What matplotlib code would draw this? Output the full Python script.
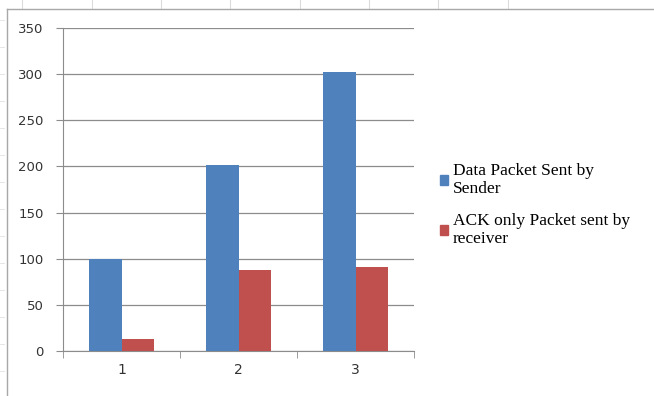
import matplotlib
matplotlib.use("Agg")
import matplotlib.pyplot as plt
from matplotlib.lines import Line2D
from matplotlib.patches import Patch

categories = ["1", "2", "3"]
sender_packets = [100, 202, 302]
receiver_acks = [13, 88, 91]
series_labels = ["Data Packet Sent by\nSender", "ACK only Packet sent by\nreceiver"]
y_ticks = [0, 50, 100, 150, 200, 250, 300, 350]

W, H = 654, 396
fig = plt.figure(figsize=(W / 100, H / 100), dpi=100)
fig.patch.set_facecolor("white")

# worksheet cell lines around the embedded chart
for x in [22, 92, 161, 230, 300, 369, 438, 508]:
    fig.add_artist(Line2D([x / W, x / W], [1 - 0 / H, 1 - 9 / H], color="#dcdcdc", lw=0.8))
for y in range(20, 396, 27):
    fig.add_artist(Line2D([0, 4 / W], [1 - y / H, 1 - y / H], color="#e6e6e6", lw=0.7))
# chart area border
fig.add_artist(Line2D([7 / W, 7 / W], [0, 1 - 9 / H], color="#a8a8a8", lw=1.0))
fig.add_artist(Line2D([7 / W, 1], [1 - 9 / H, 1 - 9 / H], color="#a8a8a8", lw=1.0))

ax = fig.add_axes([63 / W, 1 - 351 / H, (414 - 63) / W, (351 - 28) / H])
ax.set_facecolor("white")

x = [1, 2, 3]
w = 0.28
ax.bar([v - w / 2 for v in x], sender_packets, width=w, color="#4F81BD", zorder=3)
ax.bar([v + w / 2 for v in x], receiver_acks, width=w, color="#C0504D", zorder=3)

ax.set_xlim(0.5, 3.5)
ax.set_ylim(0, 350)
ax.set_yticks(y_ticks)
ax.set_yticklabels([str(t) for t in y_ticks])
ax.set_xticks(x)
ax.set_xticklabels(categories)
ax.set_xticks([0.5, 1.5, 2.5, 3.5], minor=True)
ax.tick_params(axis="x", which="major", length=0, pad=9, labelsize=10, labelcolor="#333333")
ax.tick_params(axis="x", which="minor", length=5, color="#8c8c8c", direction="out")
ax.tick_params(axis="y", length=5, color="#8c8c8c", direction="out", pad=9,
               labelsize=9.5, labelcolor="#333333")
for lab in ax.get_xticklabels() + ax.get_yticklabels():
    lab.set_family("DejaVu Sans")

ax.yaxis.grid(True, color="#8c8c8c", lw=0.9, zorder=0)
ax.set_axisbelow(True)
for s in ["top", "right"]:
    ax.spines[s].set_visible(False)
ax.spines["left"].set_color("#8c8c8c")
ax.spines["bottom"].set_color("#8c8c8c")

handles = [Patch(color="#4F81BD"), Patch(color="#C0504D")]
fig.legend(handles, series_labels, loc="upper left", bbox_to_anchor=(424 / W, 1 - 147 / H),
           frameon=False, prop={"family": "Liberation Serif", "size": 12.5},
           handlelength=0.5, handleheight=0.5, handletextpad=0.25, labelspacing=0.9)

fig.savefig("out.png", dpi=100)
